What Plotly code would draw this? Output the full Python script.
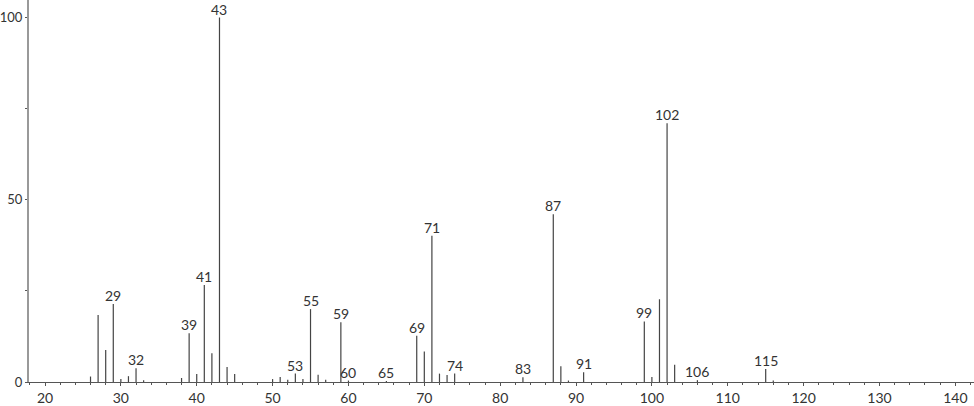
import plotly.graph_objs as go

# m/z and relative intensity
mz = [26, 27, 28, 29, 30, 31, 32, 33, 38, 39, 40, 41, 42, 43, 44, 45,
      50, 51, 52, 53, 54, 55, 56, 57, 59, 60, 65, 69, 70, 71, 72, 73, 74,
      83, 87, 88, 89, 91, 99, 100, 101, 102, 103, 106, 115, 116]
intensity = [1.5, 18.4, 8.8, 21.4, 0.8, 1.6, 3.8, 0.5, 1.1, 13.4, 2.2, 26.6, 7.9, 100, 4.1, 2.2,
             0.8, 1.4, 0.6, 2.3, 0.8, 20.0, 2.0, 0.6, 16.4, 0.4, 0.3, 12.7, 8.4, 40.1, 2.3, 1.9, 2.3,
             1.3, 46.0, 4.3, 0.4, 2.7, 16.6, 1.4, 22.7, 71.0, 4.7, 0.5, 3.6, 0.4]
labelled = [29, 32, 39, 41, 43, 53, 55, 59, 60, 65, 69, 71, 74, 83, 87, 91, 99, 102, 106, 115]

FONT = "Lato"
INK = "#333333"

# stick spectrum: one vertical segment per peak
xs, ys = [], []
for m, i in zip(mz, intensity):
    xs += [m, m, None]
    ys += [0, i, None]

fig = go.Figure()
fig.add_trace(go.Scatter(
    x=xs, y=ys, mode='lines',
    line=dict(color='#444444', width=1.2),
    hoverinfo='skip', showlegend=False
))

peaks = dict(zip(mz, intensity))
for m in labelled:
    fig.add_annotation(
        x=m, y=peaks[m], text=str(m), showarrow=False,
        yanchor='bottom', xanchor='center', yshift=-1, borderpad=0,
        font=dict(family=FONT, size=14, color=INK)
    )

fig.update_layout(
    width=974, height=406,
    margin=dict(l=29, r=0, t=0, b=24, autoexpand=False),
    plot_bgcolor='white', paper_bgcolor='white',
    showlegend=False,
    font=dict(family=FONT, size=14, color=INK),
    xaxis=dict(
        range=[17.89, 142.46], tickmode='linear', tick0=20, dtick=10,
        showgrid=False, zeroline=False, automargin=False,
        showline=True, linecolor='#555555', linewidth=1,
        ticks='outside', ticklen=3, tickcolor='#555555',
        minor=dict(dtick=2, tick0=20, ticks='outside', ticklen=2, tickcolor='#555555', showgrid=False),
        tickfont=dict(family=FONT, size=14, color=INK),
    ),
    yaxis=dict(
        range=[0, 104.8], tickmode='linear', tick0=0, dtick=50,
        showgrid=False, zeroline=False, automargin=False,
        showline=True, linecolor='#999999', linewidth=2,
        ticks='outside', ticklen=2, tickcolor='#555555',
        minor=dict(dtick=25, tick0=0, ticks='outside', ticklen=2, tickcolor='#555555', showgrid=False),
        tickfont=dict(family=FONT, size=13, color=INK),
    ),
)

# drop the browser's default page margin so the figure sits at the window origin
fig.write_html("out.html", config={'displayModeBar': False},
               post_script="document.body.style.margin='0';")
